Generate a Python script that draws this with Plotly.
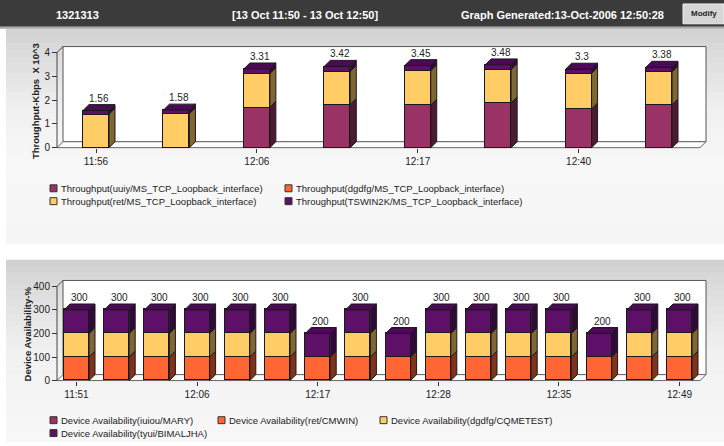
import plotly.graph_objects as go

# ---------------- data ----------------
top_tick_labels = ["11:56", "", "12:06", "", "12:17", "", "12:40", ""]
thr_uuiy = [0, 0, 1.70, 1.82, 1.79, 1.88, 1.63, 1.80]
thr_dgdfg = [0, 0, 0, 0, 0, 0, 0, 0]
thr_ret = [1.41, 1.43, 1.42, 1.39, 1.45, 1.41, 1.50, 1.38]
thr_tswin = [0.15, 0.15, 0.19, 0.21, 0.21, 0.19, 0.17, 0.20]
thr_names = ["Throughput(uuiy/MS_TCP_Loopback_interface)",
             "Throughput(dgdfg/MS_TCP_Loopback_interface)",
             "Throughput(ret/MS_TCP_Loopback_interface)",
             "Throughput(TSWIN2K/MS_TCP_Loopback_interface)"]
thr_yticks = [0, 1, 2, 3, 4]

bot_tick_labels = ["11:51", "", "", "12:06", "", "", "12:17", "", "", "12:28",
                   "", "", "12:35", "", "", "12:49"]
av_mary = [0] * 16
av_cmwin = [100] * 16
av_cqme = [100, 100, 100, 100, 100, 100, 0, 100, 0, 100, 100, 100, 100, 0, 100, 100]
av_bimal = [100] * 16
av_names = ["Device Availability(iuiou/MARY)",
            "Device Availability(ret/CMWIN)",
            "Device Availability(dgdfg/CQMETEST)",
            "Device Availability(tyui/BIMALJHA)"]
av_yticks = [0, 100, 200, 300, 400]

# ---------------- style ----------------
W, H = 724, 446
FONT = "Liberation Sans"
MAROON, ORANGE, YELLOW, PURPLE = "#993366", "#ff6633", "#ffcc66", "#5e1068"
SIDE = {MAROON: "#4d1a33", ORANGE: "#80331a", YELLOW: "#806633", PURPLE: "#30083a"}
TOPC = "#4a0a55"
EDGE = "#1a1a1a"


def px(x):
    return x / W


def py(y):
    return 1 - y / H


fig = go.Figure()
shapes = []
annotations = []


def label(text, x, y, size, color="#222", xanchor="center", yanchor="middle", angle=0):
    annotations.append(dict(text=text, x=px(x), y=py(y), xref="paper", yref="paper",
                            xanchor=xanchor, yanchor=yanchor, textangle=angle, showarrow=False,
                            font=dict(family=FONT, size=size, color=color)))


def gradient(y_top, y_bot, stops, x0=6, x1=W, n=30):
    step = (y_bot - y_top) / n
    for k in range(n):
        ya = y_top + k * step
        yb = ya + step + 0.6
        ym = ya + step / 2
        c = stops[-1][1]
        for j in range(len(stops) - 1):
            if stops[j][0] <= ym <= stops[j + 1][0]:
                t = (ym - stops[j][0]) / (stops[j + 1][0] - stops[j][0])
                c = [round(stops[j][1][m] + t * (stops[j + 1][1][m] - stops[j][1][m])) for m in range(3)]
                break
        shapes.append(dict(type="rect", xref="paper", yref="paper", x0=px(x0), x1=px(x1),
                           y0=py(min(yb, y_bot)), y1=py(ya), fillcolor="rgb(%d,%d,%d)" % tuple(c),
                           line=dict(width=0), layer="below"))


# panel backgrounds
gradient(29, 246, [(29, (210, 210, 210)), (60, (222, 222, 222)), (110, (240, 240, 240)),
                   (170, (248, 248, 248)), (246, (245, 245, 245))])
gradient(262, 446, [(262, (208, 208, 208)), (295, (222, 222, 222)), (350, (240, 240, 240)),
                    (446, (248, 248, 248))])

# header bar
shapes.append(dict(type="rect", xref="paper", yref="paper", x0=0, x1=1, y0=py(27), y1=py(0),
                   fillcolor="#3b3b3b", line=dict(width=0), layer="below"))
shapes.append(dict(type="rect", xref="paper", yref="paper", x0=0, x1=1, y0=py(29), y1=py(27),
                   fillcolor="#a8a8a8", line=dict(width=0), layer="below"))
shapes.append(dict(type="rect", xref="paper", yref="paper", x0=px(683), x1=1, y0=py(24), y1=py(4),
                   fillcolor="#d6d6d6", line=dict(color="#f0f0f0", width=1), layer="below"))
label("<b>1321313</b>", 77, 15, 11, "white")
label("<b>[13 Oct 11:50 - 13 Oct 12:50]</b>", 305, 15, 11, "white")
label("<b>Graph Generated:13-Oct-2006 12:50:28</b>", 562, 15, 11, "white")
label("<b>Modify</b>", 704, 14, 8, "#222")


def chart3d(xa, ya, series, colors, names, tick_labels, yticks, ytitle,
            x0px, xstep, y0px, ypu, ytop_px, axis_title_x, legend_rows, bar_px, depth=6):
    n = len(series[0])
    idx = list(range(n))
    front_l, front_r, back_top = 57, 700, ytop_px
    dom_l, dom_r = 55, 708
    dom_t, dom_b = back_top - 2, y0px + 2
    xr = [(dom_l - x0px) / xstep, (dom_r - x0px) / xstep]
    yr = [(y0px - dom_b) / ypu, (y0px - dom_t) / ypu]
    dx, dy = depth / xstep, depth / ypu
    xfl, xfr = (front_l - x0px) / xstep, (front_r - x0px) / xstep
    ytop = (y0px - back_top) / ypu
    bw = bar_px / xstep
    xk = "x" if xa == "xaxis" else "x" + xa[5:]
    yk = "y" if ya == "yaxis" else "y" + ya[5:]

    shapes.append(dict(type="rect", xref=xk, yref=yk, x0=xfl + dx, x1=xfr + dx, y0=dy, y1=ytop,
                       fillcolor="white", line=dict(color="#555", width=1), layer="below"))
    shapes.append(dict(type="path", xref=xk, yref=yk,
                       path="M%f,%f L%f,%f L%f,%f L%f,%f Z" % (xfl, 0, xfr, 0, xfr + dx, dy, xfl + dx, dy),
                       fillcolor="#fbfbfb", line=dict(color="#666", width=1), layer="below"))
    top_tick = yticks[-1]
    shapes.append(dict(type="line", xref=xk, yref=yk, x0=xfl, x1=xfl + dx, y0=top_tick, y1=ytop,
                       line=dict(color="#444", width=1)))
    shapes.append(dict(type="line", xref=xk, yref=yk, x0=xfl, x1=xfl, y0=0, y1=top_tick,
                       line=dict(color="#444", width=1)))

    for s, c, nm in zip(series, colors, names):
        fig.add_trace(go.Bar(x=idx, y=s, width=bw, name=nm, marker=dict(color=c, line=dict(color=EDGE, width=1)),
                             xaxis=xk, yaxis=yk, showlegend=False, hoverinfo="skip"))
    base = [0.0] * n
    tops = [0.0] * n
    for s, c in zip(series, colors):
        xs, ys = [], []
        for i in range(n):
            if s[i] > 0:
                b, t = base[i], base[i] + s[i]
                xr_ = i + bw / 2
                xs += [xr_, xr_ + dx, xr_ + dx, xr_, xr_, None]
                ys += [b, b + dy, t + dy, t, b, None]
                tops[i] = t
            base[i] += s[i]
        if xs:
            fig.add_trace(go.Scatter(x=xs, y=ys, fill="toself", fillcolor=SIDE[c], mode="lines",
                                     line=dict(color=EDGE, width=1), xaxis=xk, yaxis=yk,
                                     showlegend=False, hoverinfo="skip"))
    xs, ys = [], []
    for i in range(n):
        T = tops[i]
        xl_, xr_ = i - bw / 2, i + bw / 2
        xs += [xl_, xl_ + dx, xr_ + dx, xr_, xl_, None]
        ys += [T, T + dy, T + dy, T, T, None]
    fig.add_trace(go.Scatter(x=xs, y=ys, fill="toself", fillcolor=TOPC, mode="lines",
                             line=dict(color=EDGE, width=1), xaxis=xk, yaxis=yk,
                             showlegend=False, hoverinfo="skip"))
    for i in range(n):
        tot = round(sum(s[i] for s in series), 2)
        annotations.append(dict(text="%g" % tot, x=i + dx / 2, y=tops[i] + dy, xref=xk, yref=yk,
                                xanchor="center", yanchor="bottom", yshift=-1, showarrow=False,
                                font=dict(family=FONT, size=10, color="#222")))
    tv = [i for i in idx if tick_labels[i]]
    fig.update_layout(**{
        xa: dict(domain=[px(dom_l), px(dom_r)], range=xr, anchor="free", position=py(y0px),
                 showgrid=False, zeroline=False, showline=False, tickmode="array",
                 tickvals=tv, ticktext=[tick_labels[i] for i in tv], ticks="outside", ticklen=4,
                 tickcolor="#333", tickfont=dict(family=FONT, size=10, color="#222")),
        ya: dict(domain=[py(dom_b), py(dom_t)], range=yr, anchor="free", position=px(front_l),
                 showgrid=False, zeroline=False, showline=False, tickmode="array",
                 tickvals=yticks, ticks="outside", ticklen=5, tickcolor="#333",
                 tickfont=dict(family=FONT, size=10, color="#222")),
    })
    label("<b>%s</b>" % ytitle, axis_title_x, (y0px + back_top) / 2 + 4, 9.5, angle=-90)
    for (lx, ly, k) in legend_rows:
        shapes.append(dict(type="rect", xref="paper", yref="paper", x0=px(lx), x1=px(lx + 7),
                           y0=py(ly + 3.5), y1=py(ly - 3.5), fillcolor=colors[k],
                           line=dict(color="#333", width=1)))
        label(names[k], lx + 9, ly, 9.5, xanchor="left")


chart3d("xaxis", "yaxis", [thr_uuiy, thr_dgdfg, thr_ret, thr_tswin],
        [MAROON, ORANGE, YELLOW, PURPLE], thr_names, top_tick_labels, thr_yticks,
        "Throughput-Kbps  X 10^3", x0px=96, xstep=80.43, y0px=149, ypu=24, ytop_px=47,
        axis_title_x=35, legend_rows=[(50, 190, 0), (285, 190, 1), (50, 203, 2), (285, 203, 3)],
        bar_px=26)
chart3d("xaxis2", "yaxis2", [av_mary, av_cmwin, av_cqme, av_bimal],
        [MAROON, ORANGE, YELLOW, PURPLE], av_names, bot_tick_labels, av_yticks,
        "Device Availability-%", x0px=76.5, xstep=40.2, y0px=384, ypu=0.2375, ytop_px=283,
        axis_title_x=27, legend_rows=[(50, 424, 0), (218, 424, 1), (380, 424, 2), (50, 437, 3)],
        bar_px=25)

fig.update_layout(width=W, height=H, margin=dict(l=0, r=0, t=0, b=0), paper_bgcolor="white",
                  plot_bgcolor="rgba(0,0,0,0)", barmode="stack", bargap=0, showlegend=False,
                  shapes=shapes, annotations=annotations)
fig.write_html("out.html", config={"displayModeBar": False},
               post_script="document.body.style.margin='0';document.body.style.overflow='hidden';")
